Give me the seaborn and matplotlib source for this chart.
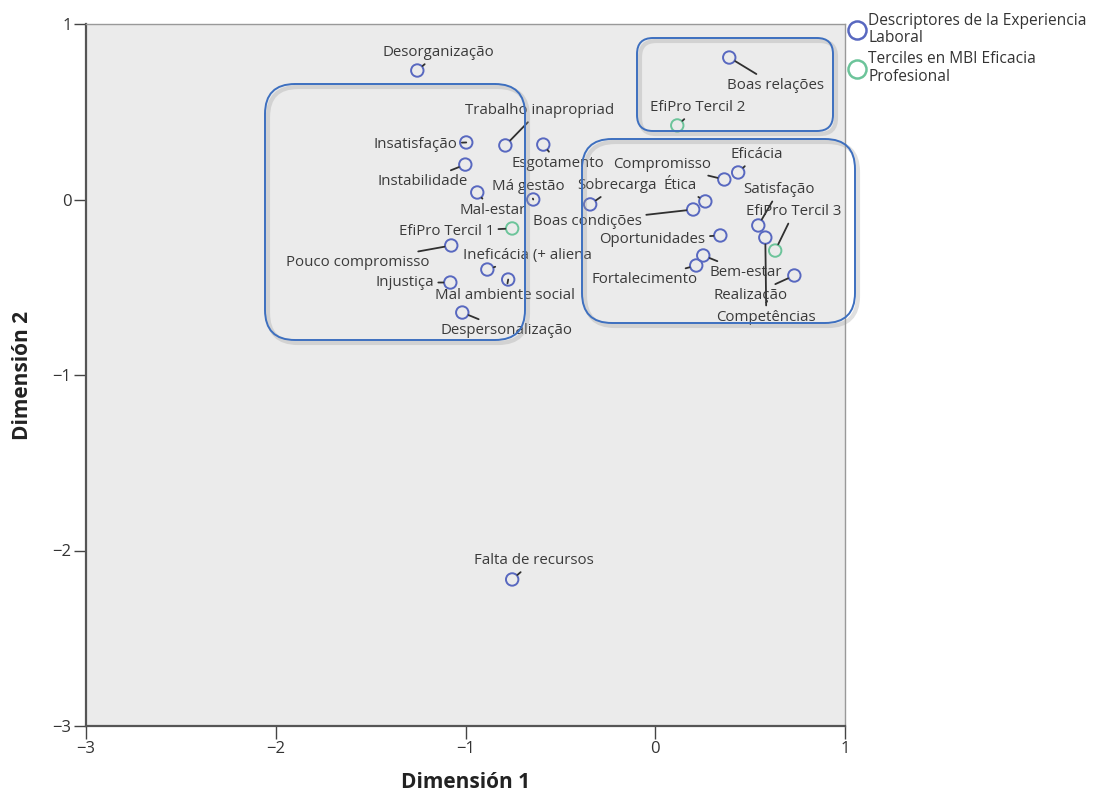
import matplotlib
matplotlib.use("Agg")
import matplotlib.pyplot as plt
import seaborn as sns
import pandas as pd
from matplotlib.patches import FancyBboxPatch
from matplotlib.lines import Line2D

# ---------------- data ----------------
desc_labels = ["Desorganização", "Boas relações", "Trabalho inapropriad", "Insatisfação",
               "Esgotamento", "Instabilidade", "Mal-estar", "Má gestão", "Sobrecarga",
               "Ética", "Boas condições", "Compromisso", "Eficácia", "Satisfação",
               "Competências", "Oportunidades", "Bem-estar", "Fortalecimento", "Realização",
               "Pouco compromisso", "Ineficácia (+ aliena", "Injustiça", "Mal ambiente social",
               "Despersonalização", "Falta de recursos"]
desc_x = [-1.254, 0.390, -0.790, -0.996, -0.590, -1.001, -0.938, -0.643, -0.343,
          0.264, 0.200, 0.364, 0.437, 0.543, 0.580, 0.343, 0.253, 0.216, 0.733,
          -1.075, -0.885, -1.080, -0.775, -1.017, -0.754]
desc_y = [0.735, 0.809, 0.308, 0.325, 0.313, 0.199, 0.040, 0.000, -0.028,
          -0.011, -0.057, 0.114, 0.154, -0.148, -0.217, -0.205, -0.319, -0.376, -0.433,
          -0.262, -0.399, -0.473, -0.456, -0.644, -2.165]

terc_labels = ["EfiPro Tercil 1", "EfiPro Tercil 2", "EfiPro Tercil 3"]
terc_x = [-0.754, 0.116, 0.632]
terc_y = [-0.165, 0.422, -0.291]

x_ticks = [-3, -2, -1, 0, 1]
y_ticks = [-3, -2, -1, 0, 1]
x_title = "Dimensión 1"
y_title = "Dimensión 2"
legend_labels = ["Descriptores de la Experiencia\nLaboral", "Terciles en MBI Eficacia\nProfesional"]

# label placement (offset of text centre from point, in pixels)
label_offsets = {
    "Desorganização": (21, 18), "Boas relações": (46, -28), "Trabalho inapropriad": (34, 35),
    "Insatisfação": (-51, -2), "Esgotamento": (15, -19), "Instabilidade": (-43, -17),
    "Mal-estar": (15, -18), "Má gestão": (-5, 13), "Sobrecarga": (27, 19),
    "Ética": (-25, 16), "Boas condições": (-106, -12), "Compromisso": (-62, 15),
    "Eficácia": (19, 18), "Satisfação": (21, 36), "Competências": (1, -80),
    "Oportunidades": (-68, -4), "Bem-estar": (42, -17), "Fortalecimento": (-52, -14),
    "Realização": (-44, -20), "Pouco compromisso": (-94, -17),
    "Ineficácia (+ aliena": (40, 14), "Injustiça": (-46, 0),
    "Mal ambiente social": (-3, -16), "Despersonalização": (44, -18),
    "Falta de recursos": (22, 19),
    "EfiPro Tercil 1": (-66, -3), "EfiPro Tercil 2": (20, 18), "EfiPro Tercil 3": (19, 39),
}

blue = "#5868c0"
green = "#6cc49a"

df_desc = pd.DataFrame({"x": desc_x, "y": desc_y, "label": desc_labels})
df_terc = pd.DataFrame({"x": terc_x, "y": terc_y, "label": terc_labels})

sns.set_theme(style="white")
plt.rcParams["font.family"] = ["Open Sans", "DejaVu Sans"]

W, H = 1098, 796
fig = plt.figure(figsize=(W / 100, H / 100), dpi=100)
ax = fig.add_axes([86 / W, 1 - 726 / H, (845 - 86) / W, (726 - 24) / H])
ax.set_facecolor("#ebebeb")

sns.scatterplot(data=df_desc, x="x", y="y", ax=ax, s=80, facecolor="none",
                edgecolor=blue, linewidth=1.4, zorder=3)
sns.scatterplot(data=df_terc, x="x", y="y", ax=ax, s=80, facecolor="none",
                edgecolor=green, linewidth=1.4, zorder=3)

for df in (df_desc, df_terc):
    for _, r in df.iterrows():
        dx, dy = label_offsets[r["label"]]
        ax.annotate(r["label"], (r["x"], r["y"]), xytext=(dx, dy),
                    textcoords="offset pixels", ha="center", va="center",
                    fontsize=10.8, color="#3a3a3a", zorder=4,
                    arrowprops=dict(arrowstyle="-", color="#303030", lw=1.3,
                                    shrinkA=1, shrinkB=5))

ax.set_xlim(-3, 1)
ax.set_ylim(-3, 1)
ax.set_xticks(x_ticks)
ax.set_yticks(y_ticks)
ax.tick_params(axis="both", direction="out", length=9, width=1, color="#444444",
               labelsize=12, labelcolor="#333333", pad=1.5, left=True, bottom=True)
for side in ("left", "bottom"):
    ax.spines[side].set_color("#555555")
    ax.spines[side].set_linewidth(1.6)
for side in ("top", "right"):
    ax.spines[side].set_color("#999999")
    ax.spines[side].set_linewidth(1.0)

ax.set_xlabel(x_title, fontsize=15, fontweight="bold", color="#222222", labelpad=11)
ax.set_ylabel(y_title, fontsize=15, fontweight="bold", color="#222222", labelpad=14)

handles = [Line2D([], [], marker="o", linestyle="none", markersize=13, markerfacecolor="none",
                  markeredgecolor=blue, markeredgewidth=1.8),
           Line2D([], [], marker="o", linestyle="none", markersize=13, markerfacecolor="none",
                  markeredgecolor=green, markeredgewidth=1.8)]
leg = ax.legend(handles, legend_labels, loc="upper left", bbox_to_anchor=(0.998, 1.025),
                frameon=False, borderaxespad=0, handlelength=0.9, handletextpad=0.3,
                labelspacing=0.3, fontsize=11.2)
for t in leg.get_texts():
    t.set_color("#333333")
    t.set_linespacing(1.15)

# annotation boxes (pixel rectangles)
boxes = [(265, 84, 525, 340, 30), (637, 38, 833, 131, 16), (582, 139, 855, 323, 30)]
for x0, y0, x1, y1, rr in boxes:
    for off, col, lw, alpha in ((3, "#9a9a9a", 3.0, 0.3), (0, "#3d6fbf", 1.4, 1.0)):
        p = FancyBboxPatch((x0 + off, H - y1 - off), x1 - x0, y1 - y0,
                           boxstyle=f"round,pad=0,rounding_size={rr}",
                           transform=None, fill=False, edgecolor=col, lw=lw,
                           alpha=alpha, clip_on=False, zorder=5)
        fig.patches.append(p)

fig.savefig("out.png", dpi=100)
